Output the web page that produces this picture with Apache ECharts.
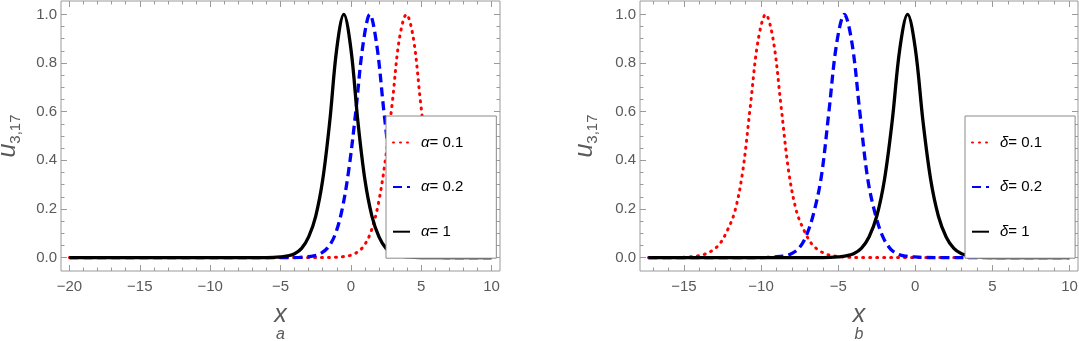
<!DOCTYPE html>
<html>
<head>
<meta charset="utf-8">
<script src="https://cdn.jsdelivr.net/npm/echarts@6/dist/echarts.min.js"></script>
<style>
  html, body { margin: 0; padding: 0; background: #fff; }
  #chart { width: 1079px; height: 341px; }
</style>
</head>
<body>
<div id="chart"></div>
<script>
// ---- panel a (alpha) ----
const aRedX = [-20, -2.05, -1.05, -0.55, -0.05, 0.45, 0.95, 1.45, 1.95, 2.45, 2.95, 3.45, 3.95, 4.45, 4.95, 5.45, 5.95, 6.45, 6.95, 7.45, 7.95, 8.45, 8.95, 10]
const aRedY = [0, 0, 0.0015, 0.004, 0.009, 0.022, 0.05, 0.11, 0.22, 0.40, 0.64, 0.9, 1, 0.9, 0.64, 0.40, 0.22, 0.11, 0.05, 0.022, 0.009, 0.004, 0.0015, 0]
const aBlueX = [-20, -4.65, -3.65, -3.15, -2.65, -2.15, -1.65, -1.15, -0.65, -0.15, 0.35, 0.85, 1.35, 1.85, 2.35, 2.85, 3.35, 3.85, 4.35, 4.85, 5.35, 5.85, 6.35, 7.35, 10]
const aBlueY = [0, 0, 0.001, 0.003, 0.007, 0.017, 0.04, 0.09, 0.19, 0.36, 0.60, 0.87, 1, 0.87, 0.60, 0.36, 0.19, 0.09, 0.04, 0.017, 0.007, 0.003, 0.001, 0, 0]
const aBlackX = [-20, -6.5, -5.5, -5, -4.5, -4, -3.5, -3, -2.5, -2, -1.5, -1, -0.5, 0, 0.5, 1, 1.5, 2, 2.5, 3, 3.5, 4, 4.5, 5.5, 10]
const aBlackY = [0, 0, 0.001, 0.003, 0.007, 0.016, 0.038, 0.085, 0.17, 0.32, 0.56, 0.86, 1, 0.86, 0.56, 0.32, 0.17, 0.085, 0.038, 0.016, 0.007, 0.003, 0.001, 0, 0]

// ---- panel b (delta) ----
const bRedX = [-17.3, -15.7, -14.7, -14.2, -13.7, -13.2, -12.7, -12.2, -11.7, -11.2, -10.7, -10.2, -9.7, -9.2, -8.7, -8.2, -7.7, -7.2, -6.7, -6.2, -5.7, -5.2, -4.7, -3.7, 10]
const bRedY = [0, 0, 0.003, 0.006, 0.013, 0.028, 0.055, 0.11, 0.19, 0.35, 0.62, 0.89, 1, 0.89, 0.62, 0.35, 0.19, 0.11, 0.055, 0.028, 0.013, 0.006, 0.003, 0, 0]
const bBlueX = [-17.3, -10.6, -9.6, -9.1, -8.6, -8.1, -7.6, -7.1, -6.6, -6.1, -5.6, -5.1, -4.6, -4.1, -3.6, -3.1, -2.6, -2.1, -1.6, -1.1, -0.6, -0.1, 0.4, 1.4, 10]
const bBlueY = [0, 0, 0.001, 0.003, 0.006, 0.014, 0.035, 0.085, 0.18, 0.33, 0.60, 0.88, 1, 0.88, 0.60, 0.33, 0.18, 0.085, 0.035, 0.014, 0.006, 0.003, 0.001, 0, 0]
const bBlackX = [-17.3, -6.5, -5.5, -5, -4.5, -4, -3.5, -3, -2.5, -2, -1.5, -1, -0.5, 0, 0.5, 1, 1.5, 2, 2.5, 3, 3.5, 4, 4.5, 5.5, 10]
const bBlackY = [0, 0, 0.001, 0.003, 0.007, 0.016, 0.038, 0.085, 0.17, 0.32, 0.56, 0.86, 1, 0.86, 0.56, 0.32, 0.17, 0.085, 0.038, 0.016, 0.007, 0.003, 0.001, 0, 0]

// tick labels
const xTicksA = [-20, -15, -10, -5, 0, 5, 10]
const xTicksB = [-15, -10, -5, 0, 5, 10]
const yTicks = [0, 0.2, 0.4, 0.6, 0.8, 1.0]
const namesA = ['α= 0.1', 'α= 0.2', 'α= 1']
const namesB = ['δ= 0.1', 'δ= 0.2', 'δ= 1']

const FONT = 'Liberation Sans, Arial, sans-serif'
const GREY = '#5a5a5a'
const FRAME = '#9a9a9a'

const zip = (xs, ys) => xs.map((x, i) => [x, ys[i]])
const range = (a, b, s) => { const r = []; for (let v = a; v <= b + 1e-9; v += s) r.push(+v.toFixed(3)); return r }

const chart = echarts.init(document.getElementById('chart'))

const grids = [
  { left: 61, top: 1, width: 439, height: 270 },
  { left: 640, top: 1, width: 438, height: 270 }
]
const xRanges = [[-20.6, 10.6], [-17.85, 10.55]]
const xMajor = [xTicksA, xTicksB]
const xMinor = [range(-20, 10, 1), range(-17, 10, 1)]
const yMinor = range(0, 1, 0.05)

const noLine = { show: false, onZero: false }
const xAxes = []
const yAxes = []
grids.forEach((g, gi) => {
  const [mn, mx] = xRanges[gi]
  const base = { gridIndex: gi, type: 'value', min: mn, max: mx, axisLine: noLine, splitLine: { show: false } }
  // bottom major (with labels + name)
  xAxes.push({
    ...base, position: 'bottom',
    axisTick: { inside: true, length: 6, customValues: xMajor[gi], lineStyle: { color: FRAME } },
    axisLabel: {
      customValues: xMajor[gi], color: GREY, fontSize: 15, fontFamily: FONT, margin: 8,
      formatter: v => (v < 0 ? '\u2212' + (-v) : String(v))
    },
    name: '{x|x}\n{s|' + (gi === 0 ? 'a' : 'b') + '}',
    nameLocation: 'middle', nameGap: 33,
    nameTextStyle: {
      rich: {
        x: { fontSize: 25, fontStyle: 'italic', color: GREY, fontFamily: FONT, lineHeight: 22, align: 'center' },
        s: { fontSize: 16, fontStyle: 'italic', color: GREY, fontFamily: FONT, lineHeight: 18, align: 'center' }
      }
    }
  })
  xAxes.push({ ...base, position: 'bottom', axisTick: { inside: true, length: 3.5, customValues: xMinor[gi], lineStyle: { color: FRAME } }, axisLabel: { show: false } })
  xAxes.push({ ...base, position: 'top', axisTick: { inside: true, length: 6, customValues: xMajor[gi], lineStyle: { color: FRAME } }, axisLabel: { show: false } })
  xAxes.push({ ...base, position: 'top', axisTick: { inside: true, length: 3.5, customValues: xMinor[gi], lineStyle: { color: FRAME } }, axisLabel: { show: false } })

  const ybase = { gridIndex: gi, type: 'value', min: -0.055, max: 1.055, axisLine: noLine, splitLine: { show: false } }
  yAxes.push({
    ...ybase, position: 'left',
    axisTick: { inside: true, length: 6, customValues: yTicks, lineStyle: { color: FRAME } },
    axisLabel: { customValues: yTicks, color: GREY, fontSize: 15, fontFamily: FONT, margin: 4, formatter: v => v.toFixed(1) },
    name: '{u|u}{s|3,17}',
    nameLocation: 'middle', nameRotate: 90, nameGap: gi === 0 ? 38 : 40,
    nameTextStyle: {
      rich: {
        u: { fontSize: 25, fontStyle: 'italic', color: GREY, fontFamily: FONT, lineHeight: 26 },
        s: { fontSize: 15, color: GREY, fontFamily: FONT, padding: [14, 0, 0, 0] }
      }
    }
  })
  yAxes.push({ ...ybase, position: 'left', axisTick: { inside: true, length: 3.5, customValues: yMinor, lineStyle: { color: FRAME } }, axisLabel: { show: false } })
  yAxes.push({ ...ybase, position: 'right', axisTick: { inside: true, length: 6, customValues: yTicks, lineStyle: { color: FRAME } }, axisLabel: { show: false } })
  yAxes.push({ ...ybase, position: 'right', axisTick: { inside: true, length: 3.5, customValues: yMinor, lineStyle: { color: FRAME } }, axisLabel: { show: false } })
})

const redStyle = { color: '#ff0000', width: 3, type: [1, 6], cap: 'round' }
const blueStyle = { color: '#0000ff', width: 3.3, type: [9, 5], cap: 'butt' }
const blackStyle = { color: '#000000', width: 3.3, type: 'solid' }

function line(name, gi, data, style, color) {
  return {
    name, type: 'line', xAxisIndex: gi * 4, yAxisIndex: gi * 4, data,
    smooth: 0.35, symbol: 'none', lineStyle: style, itemStyle: { color }, z: 2
  }
}

const series = [
  line(namesA[0], 0, zip(aRedX, aRedY), redStyle, '#ff0000'),
  line(namesA[1], 0, zip(aBlueX, aBlueY), blueStyle, '#0000ff'),
  line(namesA[2], 0, zip(aBlackX, aBlackY), blackStyle, '#000000'),
  line(namesB[0], 1, zip(bRedX, bRedY), redStyle, '#ff0000'),
  line(namesB[1], 1, zip(bBlueX, bBlueY), blueStyle, '#0000ff'),
  line(namesB[2], 1, zip(bBlackX, bBlackY), blackStyle, '#000000')
]

function legend(names, left) {
  return {
    data: names, orient: 'vertical', left, top: 116,
    padding: [19, 33, 19, 6], itemGap: 29.6, itemWidth: 17, itemHeight: 14,
    backgroundColor: '#fff', borderColor: '#8a8a8a', borderWidth: 1, z: 10,
    itemStyle: { opacity: 0 },
    formatter: n => '{g|' + n.charAt(0) + '}{t|' + n.slice(1) + '}',
    textStyle: {
      color: '#000', fontSize: 15, fontFamily: FONT, lineHeight: 14, padding: [0, 0, 0, 6],
      rich: {
        g: { fontSize: 15, fontStyle: 'italic', fontFamily: FONT, color: '#000', lineHeight: 14 },
        t: { fontSize: 15, fontFamily: FONT, color: '#000', lineHeight: 14 }
      }
    }
  }
}

chart.setOption({
  animation: false,
  grid: grids.map(g => ({ ...g, show: true, borderColor: FRAME, borderWidth: 1, backgroundColor: 'transparent', outerBoundsMode: 'none', containLabel: false })),
  xAxis: xAxes,
  yAxis: yAxes,
  legend: [legend(namesA, 386), legend(namesB, 965)],
  series
})
</script>
</body>
</html>
